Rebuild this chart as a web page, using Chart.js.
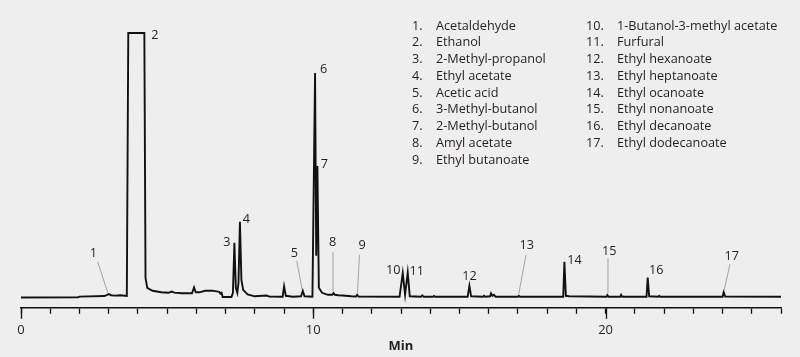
<!DOCTYPE html>
<html>
<head>
<meta charset="utf-8">
<script src="https://cdn.jsdelivr.net/npm/chart.js@4.4.1/dist/chart.umd.min.js"></script>
<style>
  html, body { margin: 0; padding: 0; background: #eeeeee; }
  #wrap { width: 800px; height: 357px; position: relative; }
</style>
</head>
<body>
<div id="wrap"><canvas id="c" width="800" height="357"></canvas></div>
<script>
// ---- Data ----
const retentionTimes = [
  0, 1.95, 2.0, 2.85, 2.95, 3.0, 3.08, 3.2, 3.4, 3.62,
  3.67, 4.22, 4.26, 4.32, 4.5, 4.8, 5.05, 5.15, 5.25, 5.5,
  5.85, 5.92, 5.98, 6.1, 6.3, 6.55, 6.78, 6.82, 6.86, 6.9,
  7.2, 7.25, 7.30, 7.35, 7.40, 7.44, 7.49, 7.54, 7.6, 7.75,
  8.0, 8.4, 8.5, 8.95, 9.0, 9.06, 9.3, 9.58, 9.64, 9.70,
  9.97, 10.06, 10.10, 10.14, 10.19, 10.3, 10.5, 10.65, 10.69, 10.74,
  10.85, 11.0, 11.3, 11.46, 11.5, 11.55, 12.95, 13.06, 13.14, 13.23,
  13.3, 13.68, 13.73, 13.78, 14.1, 14.13, 14.17, 15.28, 15.34, 15.40,
  15.8, 15.84, 15.88, 16.05, 16.08, 16.13, 16.18, 16.24, 17.0, 17.03,
  17.07, 18.55, 18.59, 18.64, 18.75, 20.03, 20.06, 20.1, 20.5, 20.53,
  20.57, 21.4, 21.44, 21.49, 21.8, 21.83, 21.87, 24.0, 24.04, 24.09,
  26.0
];
const signal = [
  10.3, 10.4, 11.2, 11.8, 13.0, 13.8, 12.6, 12.2, 12.6, 11.8,
  275, 275, 30, 20, 17, 15.5, 15, 16.2, 15.2, 14.5,
  14.5, 20.5, 15.5, 15.5, 17, 17.2, 16, 14.2, 15, 10.8,
  10.8, 15, 65, 20, 15, 25, 86, 28, 18, 13.5,
  11.5, 12.3, 11.2, 11, 21.5, 12, 11, 11.5, 17, 11.5,
  11, 235, 52, 142, 20, 15, 13, 13, 14.7, 13,
  12.5, 12.3, 11.5, 11.3, 13, 11.2, 11, 34.7, 13, 35.3,
  11.5, 11, 12.5, 11, 11, 11.8, 11, 11, 22, 11.5,
  11, 12, 11, 11.5, 14.5, 12, 13, 11, 11, 12,
  11, 11, 46, 12, 11.5, 11, 12.7, 11, 11, 13,
  11, 11, 30.3, 11.5, 11, 12, 11, 11, 15.7, 11.3,
  11
];
const peakNumbers = [1, 2, 3, 4, 5, 6, 7, 8, 9, 10, 11, 12, 13, 14, 15, 16, 17];
const peakTimes = [2.98, 3.95, 7.30, 7.49, 9.64, 10.06, 10.14, 10.69, 11.5, 13.06, 13.23, 15.34, 17.03, 18.59, 20.06, 21.44, 24.04];
const peakHeights = [13.8, 275, 65, 86, 17, 235, 142, 14.7, 13, 34.7, 35.3, 22, 12, 46, 12.7, 30.3, 15.7];
const compoundNames = [
  'Acetaldehyde', 'Ethanol', '2-Methyl-propanol', 'Ethyl acetate', 'Acetic acid',
  '3-Methyl-butanol', '2-Methyl-butanol', 'Amyl acetate', 'Ethyl butanoate',
  '1-Butanol-3-methyl acetate', 'Furfural', 'Ethyl hexanoate', 'Ethyl heptanoate',
  'Ethyl ocanoate', 'Ethyl nonanoate', 'Ethyl decanoate', 'Ethyl dodecanoate'
];
const majorTickLabels = [0, 10, 20];
const axisTitle = 'Min';

// ---- Layout (pixel offsets of peak labels relative to each apex) ----
const labelLayout = [
  [-14.8, -40.7, [-10.4, -32.2, -0.4, -1.5]],
  [18.5, 2, null],
  [-7.5, 0, null],
  [6.5, -2.5, null],
  [-8.5, -37, [-6, -30, -0.8, -2]],
  [8.5, -3.5, null],
  [7, -2, null],
  [-0.8, -50.6, [-0.5, -41, -0.5, -2]],
  [5, -49, [2.3, -40, 0.3, -2]],
  [-9.4, -2.6, null],
  [9, -1, null],
  [0, -9, null],
  [8, -50, [7.2, -41, 0, -2]],
  [10, -1.5, null],
  [2, -44, [0.6, -37, 0.6, -2]],
  [8.6, -7, null],
  [8, -35.6, [6.3, -28, 0.3, -1.5]]
];

const FONT = '"Open Sans", "Noto Sans", sans-serif';
const TEXT_COLOR = '#231f20';
const FS = 12.7;

const points = retentionTimes.map((t, i) => ({ x: t, y: signal[i] }));

const overlayPlugin = {
  id: 'overlay',
  beforeDraw(chart) {
    const ctx = chart.ctx;
    ctx.save();
    ctx.fillStyle = '#eeeeee';
    ctx.fillRect(0, 0, chart.width, chart.height);
    ctx.restore();
  },
  afterDraw(chart) {
    const ctx = chart.ctx;
    const xs = chart.scales.x, ys = chart.scales.y;
    ctx.save();
    const axisY = chart.chartArea.bottom;
    ctx.strokeStyle = '#111';
    ctx.lineWidth = 1.3;
    majorTickLabels.forEach(v => {
      const px = Math.round(xs.getPixelForValue(v)) + 0.5;
      ctx.beginPath();
      ctx.moveTo(px, axisY);
      ctx.lineTo(px, axisY + 11);
      ctx.stroke();
    });
    ctx.font = FS + 'px ' + FONT;
    ctx.fillStyle = TEXT_COLOR;
    ctx.textAlign = 'center';
    ctx.textBaseline = 'middle';
    peakNumbers.forEach((n, i) => {
      const ax = xs.getPixelForValue(peakTimes[i]);
      const ay = ys.getPixelForValue(peakHeights[i]);
      const L = labelLayout[i];
      ctx.fillText(String(n), ax + L[0], ay + L[1]);
      if (L[2]) {
        ctx.strokeStyle = '#9a9a9a';
        ctx.lineWidth = 0.9;
        ctx.beginPath();
        ctx.moveTo(ax + L[2][0], ay + L[2][1]);
        ctx.lineTo(ax + L[2][2], ay + L[2][3]);
        ctx.stroke();
      }
    });
    ctx.textAlign = 'left';
    const rowH = 16.75;
    peakNumbers.forEach((n, i) => {
      const col = i < 9 ? 0 : 1;
      const row = i < 9 ? i : i - 9;
      const y = 26 + row * rowH;
      const nx = col === 0 ? 412 : 586;
      const tx = col === 0 ? 436 : 617;
      ctx.fillText(n + '.', nx, y);
      ctx.fillText(compoundNames[i], tx, y);
    });
    ctx.restore();
  }
};

new Chart(document.getElementById('c'), {
  type: 'line',
  data: {
    datasets: [{
      data: points,
      borderColor: '#111111',
      borderWidth: 1.9,
      pointRadius: 0,
      tension: 0,
      fill: false
    }]
  },
  options: {
    responsive: false,
    animation: false,
    devicePixelRatio: 1,
    layout: { padding: { left: 21, right: 19, top: 8, bottom: 3 } },
    plugins: { legend: { display: false }, tooltip: { enabled: false } },
    scales: {
      x: {
        type: 'linear',
        min: 0,
        max: 26,
        border: { display: true, color: '#111', width: 1.6 },
        grid: { display: true, drawOnChartArea: false, drawTicks: true, tickLength: 6, tickColor: '#111', tickWidth: 1.3 },
        ticks: {
          stepSize: 1,
          autoSkip: false,
          maxRotation: 0,
          padding: 9,
          color: TEXT_COLOR,
          font: { family: FONT, size: 13 },
          callback: v => majorTickLabels.includes(v) ? String(v) : ''
        },
        title: {
          display: true,
          text: axisTitle,
          color: TEXT_COLOR,
          font: { family: FONT, size: 13, weight: 'bold' },
          padding: { top: -9, bottom: 0 }
        }
      },
      y: { display: false, min: 0, max: 300 }
    }
  },
  plugins: [overlayPlugin]
});
</script>
</body>
</html>
